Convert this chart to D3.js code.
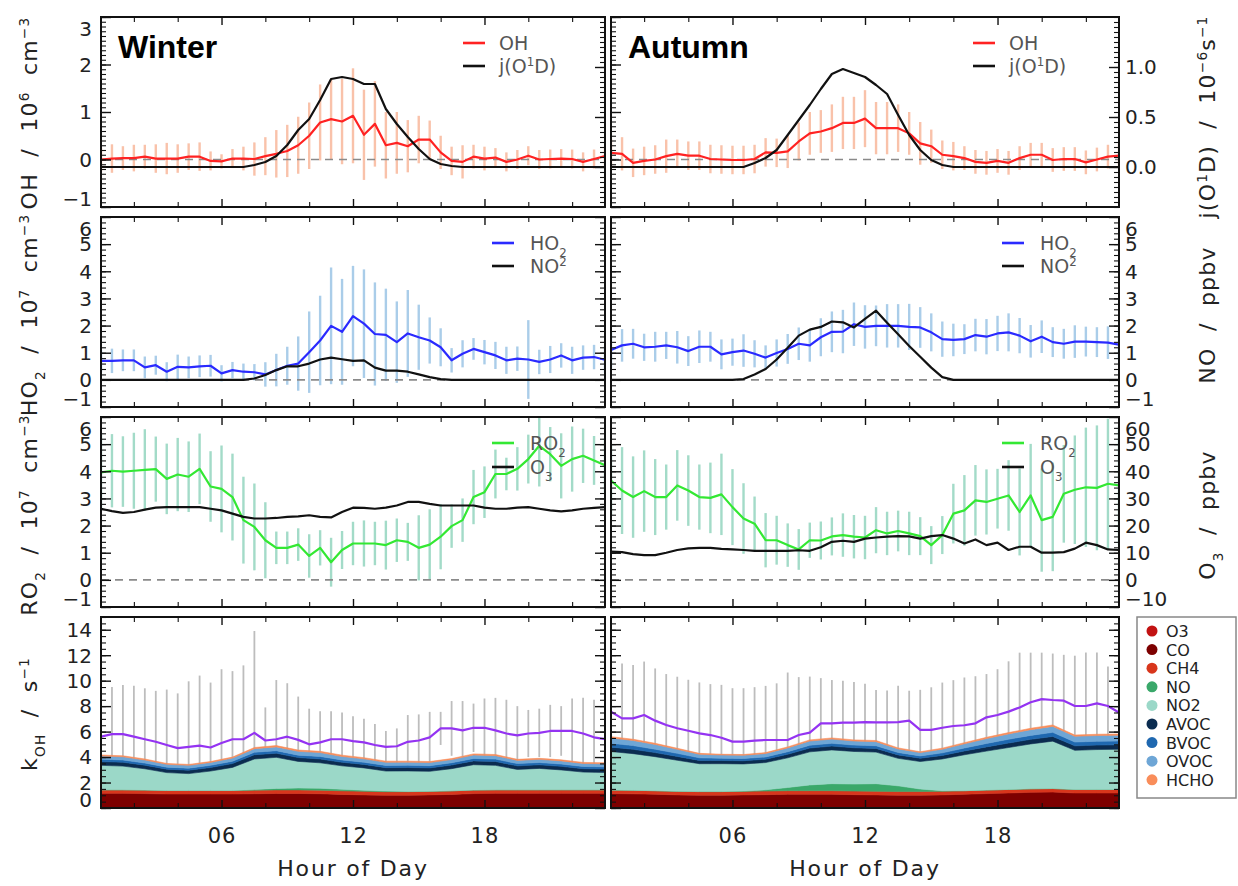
<!DOCTYPE html>
<html>
<head>
<meta charset="utf-8">
<script src="https://cdn.jsdelivr.net/npm/d3@7/dist/d3.min.js"></script>
<style>
html,body{margin:0;padding:0;background:#fff;}
svg{display:block;}
</style>
</head>
<body>
<svg id="chart" width="1238" height="886" xmlns="http://www.w3.org/2000/svg"></svg>
<script>
// ---------------- DATA ----------------
const hours = [0.5,1,1.5,2,2.5,3,3.5,4,4.5,5,5.5,6,6.5,7,7.5,8,8.5,9,9.5,10,10.5,11,11.5,12,12.5,13,13.5,14,14.5,15,15.5,16,16.5,17,17.5,18,18.5,19,19.5,20,20.5,21,21.5,22,22.5,23,23.5];
const hoursHourly = [0.5,1.5,2.5,3.5,4.5,5.5,6.5,7.5,8.5,9.5,10.5,11.5,12.5,13.5,14.5,15.5,16.5,17.5,18.5,19.5,20.5,21.5,22.5,23.5];

const xTickLabels = ["06","12","18"];
const xMajorHours = [6,12,18];
const xMinorHours = [2,4,8,10,14,16,20,22];
const yTicksOH = [-1,0,1,2,3];
const yTicksJ = [0,0.5,1.0];
const yTicksHO2 = [-1,0,1,2,3,4,5,6];
const yTicksNO = [-1,0,1,2,3,4,5,6];
const yTicksRO2 = [-1,0,1,2,3,4,5,6];
const yTicksO3 = [-10,0,10,20,30,40,50,60];
const yTicksKOH = [0,2,4,6,8,10,12,14];

// OH (1e6 cm-3) and j(O1D) (1e-6 s-1)
const ohWinter = [0.00,0.02,0.03,0.03,0.06,0.02,0.02,0.02,0.06,0.06,-0.03,-0.04,0.02,0.02,0.01,0.07,0.12,0.18,0.30,0.50,0.78,0.85,0.80,0.92,0.52,0.75,0.30,0.35,0.28,0.42,0.42,0.15,-0.03,-0.05,0.06,0.02,0.04,-0.05,0.00,0.08,0.00,0.01,0.02,0.01,-0.05,0.01,0.07];
const ohWinterErr = [0.25,0.3,0.25,0.28,0.25,0.3,0.33,0.3,0.28,0.3,0.2,0.15,0.2,0.25,0.35,0.4,0.5,0.55,0.6,0.7,0.8,0.85,0.9,1.0,0.95,0.9,0.7,0.65,0.55,0.5,0.4,0.35,0.3,0.35,0.25,0.25,0.2,0.2,0.2,0.2,0.2,0.2,0.2,0.2,0.2,0.2,0.2];
const jWinter = [0,0,0,0,0,0,0,0,0,0,0,0,0,0,0.02,0.05,0.11,0.22,0.37,0.48,0.67,0.88,0.9,0.88,0.83,0.83,0.58,0.43,0.3,0.18,0.08,0.03,0.01,0,0,0,0,0,0,0,0,0,0,0,0,0,0];
const ohAutumn = [0.14,0.12,-0.07,-0.03,0.0,0.07,0.12,0.08,0.08,0.01,0.0,-0.01,-0.01,0.01,0.15,0.14,0.17,0.38,0.55,0.59,0.66,0.77,0.77,0.86,0.66,0.66,0.66,0.55,0.34,0.28,0.1,0.07,0.03,-0.05,-0.07,-0.03,-0.07,0.03,0.1,0.1,-0.01,0.01,0.01,-0.06,0.0,0.06,0.08];
const ohAutumnErr = [0.3,0.35,0.3,0.3,0.3,0.35,0.3,0.3,0.3,0.3,0.3,0.3,0.3,0.3,0.3,0.3,0.35,0.4,0.45,0.45,0.5,0.55,0.55,0.6,0.55,0.55,0.5,0.45,0.45,0.35,0.3,0.3,0.25,0.25,0.25,0.25,0.25,0.25,0.25,0.25,0.25,0.25,0.25,0.25,0.25,0.25,0.25];
const jAutumn = [0,0,0,0,0,0,0,0,0,0,0,0,0,0.04,0.09,0.17,0.32,0.47,0.62,0.78,0.93,0.98,0.94,0.9,0.82,0.73,0.52,0.32,0.17,0.07,0.02,0,0,0,0,0,0,0,0,0,0,0,0,0,0,0,0];

// HO2 (1e7 cm-3) and NO (ppbv)
const ho2Winter = [0.7,0.7,0.72,0.72,0.46,0.54,0.3,0.48,0.46,0.5,0.52,0.24,0.36,0.3,0.28,0.2,0.36,0.52,0.6,1.02,1.45,1.99,1.77,2.35,2.07,1.69,1.66,1.39,1.71,1.57,1.45,1.2,0.72,0.96,1.14,1.02,0.9,0.72,0.78,0.75,0.66,0.75,0.9,0.72,0.82,0.84,0.74];
const ho2WinterErr = [0.4,0.45,0.4,0.4,0.4,0.35,0.35,0.45,0.4,0.4,0.4,0.3,0.3,0.3,0.3,0.45,0.6,0.7,1.0,1.5,1.65,2.15,1.95,1.85,2.0,1.9,1.7,1.5,1.6,1.2,0.85,0.7,0.45,0.5,0.4,0.45,0.5,0.5,0.45,1.45,0.45,0.5,0.45,0.5,0.45,0.45,0.5];
const noWinter = [0,0,0,0,0,0,0,0,0,0,0,0,0,0,0.05,0.18,0.36,0.5,0.5,0.6,0.75,0.82,0.76,0.7,0.72,0.45,0.34,0.34,0.3,0.2,0.1,0.03,0,0,0,0,0,0,0,0,0,0,0,0,0,0,0];
const ho2Autumn = [1.1,1.27,1.33,1.2,1.22,1.27,1.2,1.06,1.22,1.22,0.94,1.02,1.08,0.96,0.82,0.99,1.14,1.33,1.27,1.57,1.77,1.78,2.05,1.95,1.99,1.99,1.99,1.95,1.93,1.75,1.5,1.47,1.5,1.65,1.59,1.71,1.75,1.63,1.42,1.59,1.39,1.33,1.41,1.41,1.39,1.37,1.3];
const ho2AutumnErr = [0.65,0.6,0.55,0.5,0.55,0.5,0.6,0.55,0.6,0.55,0.55,0.5,0.6,0.5,0.45,0.5,0.55,0.6,0.6,0.7,0.75,0.8,0.8,0.8,0.75,0.8,0.8,0.85,0.75,0.7,0.65,0.6,0.55,0.6,0.65,0.65,0.7,0.65,0.6,0.6,0.55,0.55,0.6,0.55,0.55,0.6,0.6];
const noAutumn = [0,0,0,0,0,0,0,0,0,0,0,0,0.03,0.2,0.4,0.75,1.18,1.63,1.85,1.95,2.15,2.12,1.93,2.25,2.55,2.1,1.68,1.25,0.85,0.45,0.1,0,0,0,0,0,0,0,0,0,0,0,0,0,0,0,0];

// RO2 (1e7 cm-3) and O3 (ppbv)
const ro2Winter = [3.96,4.02,3.99,4.02,4.05,4.08,3.72,3.88,3.8,4.09,3.44,3.35,3.05,2.2,1.95,1.46,1.18,1.18,1.3,0.88,1.18,0.65,1.1,1.34,1.34,1.34,1.28,1.46,1.4,1.18,1.3,1.59,1.98,2.2,3.05,3.23,3.9,3.9,4.09,4.45,4.94,4.63,4.2,4.45,4.57,4.4,4.22];
const ro2WinterErr = [1.4,1.35,1.3,1.4,1.5,1.2,1.3,1.35,1.3,1.3,1.3,1.6,1.6,1.6,1.6,1.4,0.6,0.6,0.6,0.8,0.65,0.9,0.7,0.8,0.85,0.8,0.9,0.8,0.7,1.2,1.3,1.2,0.8,0.8,1.0,0.95,0.9,0.6,0.8,0.9,1.5,1.0,1.2,1.2,1.0,0.9,1.0];
const o3Winter = [26.2,25.3,24.7,25.0,25.9,26.6,26.8,26.8,26.8,26.8,26.2,25.6,24.4,23.2,22.6,22.6,22.8,23.2,23.4,23.8,23.2,23.0,25.0,26.6,26.5,26.2,26.6,27.4,28.7,28.7,28.0,27.4,27.4,27.4,27.4,26.6,26.2,26.2,26.6,26.8,26.2,25.6,25.2,25.6,26.2,26.5,26.8];
const ro2Autumn = [3.66,3.29,3.05,3.27,3.05,3.05,3.48,3.29,3.05,3.02,3.15,2.68,2.26,2.07,1.46,1.46,1.28,1.12,1.46,1.45,1.6,1.65,1.59,1.56,1.83,1.71,1.8,1.71,1.61,1.28,1.65,2.44,2.56,2.93,2.87,2.99,3.11,2.5,3.11,2.2,2.32,3.17,3.32,3.41,3.39,3.54,3.48];
const ro2AutumnErr = [1.3,1.6,1.5,1.5,1.4,1.2,1.3,1.3,1.2,1.3,1.5,1.4,1.3,1.0,1.0,0.9,0.8,0.75,0.65,0.7,0.7,0.8,0.8,0.8,0.85,0.8,0.75,0.8,0.7,0.7,0.7,1.1,1.3,1.3,1.2,1.1,1.3,1.6,1.9,1.9,2.0,1.8,2.0,2.2,2.3,2.4,2.2];
const o3Autumn = [10.4,10.2,9.5,9.1,9.1,10.0,11.0,11.6,11.8,11.8,11.4,11.2,11.0,10.7,10.7,10.7,10.7,10.9,10.7,12.0,14.0,14.4,14.0,15.2,15.6,15.9,16.1,16.0,15.2,16.1,16.5,15.2,13.4,14.9,12.8,13.7,11.0,12.2,12.2,10.0,10.0,10.2,11.5,13.7,12.8,11.2,11.0];

// Measured kOH (s-1)
const kohWinter = [5.6,5.8,5.8,5.6,5.4,5.2,4.95,4.7,4.8,4.9,4.75,5.1,5.4,5.4,5.9,5.3,5.4,5.6,5.35,5.0,5.15,5.4,5.4,5.25,5.15,4.95,4.8,4.85,5.2,5.3,5.55,6.25,6.25,6.1,6.3,6.3,6.1,5.85,5.7,5.85,5.9,6.05,6.05,6.05,5.85,5.55,5.4];
const kohWinterErr = [3.8,3.7,3.85,4.0,4.0,4.0,4.35,4.3,5.15,5.5,5.1,5.8,5.35,5.8,8.0,2.6,4.65,4.2,3.4,2.8,2.45,2.2,2.1,1.95,1.85,1.65,1.25,1.4,2.1,2.05,2.0,1.3,2.15,2.3,1.9,2.3,2.55,2.65,2.3,1.85,1.9,2.05,1.95,2.55,2.8,2.95,3.1];
const kohAutumn = [7.57,7.04,7.04,7.3,6.86,6.52,6.26,6.07,5.86,5.73,5.52,5.21,5.21,5.29,5.34,5.34,5.34,5.73,5.92,6.65,6.65,6.7,6.7,6.75,6.72,6.72,6.75,6.86,6.13,6.13,6.3,6.44,6.5,6.65,7.12,7.3,7.57,7.9,8.3,8.55,8.48,8.43,8.01,8.01,8.22,8.01,7.49];
const kohAutumnErr = [3.7,4.3,4.2,4.2,4.1,4.0,4.05,4.0,4.0,4.0,4.15,4.2,4.2,4.2,4.25,4.45,5.3,4.55,4.4,3.55,3.4,3.3,3.2,3.0,2.55,2.5,2.85,2.35,3.15,3.35,3.55,3.6,3.75,3.7,3.4,3.6,3.95,4.3,3.9,3.65,3.65,3.6,3.95,4.2,4.0,3.1,3.0];

// Modelled kOH contributions (s-1), hourly
const kW_O3   = [0.05,0.05,0.05,0.05,0.05,0.05,0.05,0.04,0.04,0.04,0.04,0.05,0.05,0.05,0.05,0.05,0.05,0.05,0.05,0.05,0.05,0.05,0.05,0.05];
const kW_CO   = [1.10,1.10,1.08,1.05,1.05,1.05,1.05,1.08,1.10,1.10,1.08,1.02,0.98,0.95,0.95,0.98,1.02,1.08,1.10,1.10,1.10,1.10,1.10,1.10];
const kW_CH4  = [0.28,0.28,0.28,0.28,0.28,0.28,0.28,0.28,0.28,0.28,0.28,0.28,0.28,0.28,0.28,0.28,0.28,0.28,0.28,0.28,0.28,0.28,0.28,0.28];
const kW_NO   = [0,0,0,0,0,0,0,0.05,0.12,0.15,0.15,0.12,0.08,0.05,0.02,0,0,0,0,0,0,0,0,0];
const kW_NO2  = [1.92,1.86,1.67,1.40,1.32,1.52,1.81,2.40,2.44,2.09,2.00,1.84,1.76,1.57,1.61,1.57,1.74,1.99,1.92,1.60,1.68,1.56,1.39,1.36];
const kW_AVOC = [0.30,0.30,0.28,0.27,0.27,0.28,0.30,0.33,0.32,0.30,0.30,0.28,0.27,0.27,0.27,0.27,0.28,0.30,0.30,0.28,0.28,0.28,0.27,0.27];
const kW_BVOC = [0.18,0.18,0.17,0.16,0.16,0.17,0.18,0.20,0.20,0.19,0.20,0.18,0.17,0.17,0.17,0.17,0.18,0.19,0.19,0.18,0.18,0.18,0.17,0.17];
const kW_OVOC = [0.25,0.25,0.24,0.22,0.22,0.23,0.25,0.28,0.30,0.30,0.30,0.28,0.27,0.25,0.25,0.25,0.25,0.27,0.27,0.25,0.25,0.25,0.24,0.24];
const kW_HCHO = [0.08,0.08,0.08,0.07,0.07,0.07,0.08,0.09,0.10,0.10,0.10,0.10,0.09,0.09,0.08,0.08,0.08,0.09,0.09,0.08,0.08,0.08,0.08,0.08];

const kA_O3   = [0.03,0.03,0.03,0.03,0.03,0.03,0.03,0.03,0.03,0.03,0.03,0.03,0.03,0.03,0.03,0.03,0.03,0.03,0.03,0.03,0.03,0.03,0.03,0.03];
const kA_CO   = [1.10,1.08,1.05,1.00,0.98,0.98,1.00,1.02,1.05,1.05,1.05,1.02,1.00,0.98,0.98,1.00,1.05,1.10,1.15,1.20,1.22,1.15,1.15,1.15];
const kA_CH4  = [0.28,0.28,0.28,0.28,0.28,0.28,0.28,0.28,0.28,0.28,0.28,0.28,0.28,0.28,0.28,0.28,0.28,0.28,0.28,0.28,0.28,0.28,0.28,0.28];
const kA_NO   = [0,0,0,0,0,0,0.02,0.10,0.25,0.45,0.55,0.55,0.60,0.45,0.20,0.05,0,0,0,0,0,0,0,0];
const kA_NO2  = [3.02,2.88,2.67,2.44,2.19,2.19,2.13,2.14,2.33,2.60,2.65,2.56,2.48,2.16,2.16,2.49,2.82,3.06,3.29,3.52,3.72,3.07,3.13,3.15];
const kA_AVOC = [0.35,0.34,0.32,0.30,0.26,0.25,0.25,0.26,0.28,0.30,0.30,0.29,0.29,0.27,0.26,0.28,0.30,0.33,0.35,0.36,0.37,0.35,0.35,0.35];
const kA_BVOC = [0.30,0.29,0.27,0.24,0.20,0.18,0.18,0.18,0.20,0.22,0.22,0.21,0.21,0.19,0.18,0.20,0.23,0.27,0.30,0.31,0.32,0.30,0.30,0.30];
const kA_OVOC = [0.42,0.40,0.37,0.32,0.28,0.25,0.25,0.27,0.30,0.33,0.33,0.32,0.32,0.28,0.26,0.29,0.33,0.38,0.42,0.45,0.47,0.45,0.45,0.45];
const kA_HCHO = [0.10,0.10,0.09,0.08,0.07,0.06,0.06,0.07,0.08,0.09,0.09,0.09,0.09,0.08,0.07,0.08,0.09,0.10,0.10,0.11,0.11,0.10,0.10,0.10];

const stackKeys = ["O3","CO","CH4","NO","NO2","AVOC","BVOC","OVOC","HCHO"];
const stackColors = ["#c21212","#7d0000","#d8361c","#3aa86a","#9bd8c8","#0b2c50","#1f68b0","#6ea6d6","#f98d5a"];
const seasonNames = ["Winter","Autumn"];

// ---------------- LAYOUT ----------------
const FONT = '"DejaVu Sans", "Liberation Sans", sans-serif';
const svg = d3.select("#chart");
const cols = [{x0:101,x1:605},{x0:611,x1:1119}];
const rows = [{y0:17,y1:207},{y0:217,y1:407},{y0:417,y1:607},{y0:617,y1:808}];
const xs = cols.map(c => d3.scaleLinear().domain([0.5,23.5]).range([c.x0,c.x1]));

const rowCfg = [
  {lDom:[-1,3],  lMaj:yTicksOH,  lMin:0.1, lFmt:d3.format("d"), rDom:[-0.4,1.5], rMaj:yTicksJ,  rMin:0.05, rFmt:d3.format(".1f")},
  {lDom:[-1,6],  lMaj:yTicksHO2, lMin:0.2, lFmt:d3.format("d"), rDom:[-1,6],     rMaj:yTicksNO, rMin:0.2,  rFmt:d3.format("d")},
  {lDom:[-1,6],  lMaj:yTicksRO2, lMin:0.2, lFmt:d3.format("d"), rDom:[-10,60],   rMaj:yTicksO3, rMin:2,    rFmt:d3.format("d")},
  {lDom:[0,15],  lMaj:yTicksKOH, lMin:0.5, lFmt:d3.format("d"), rDom:[0,15],     rMaj:yTicksKOH,rMin:0.5,  rFmt:null}
];
const yL = rows.map((r,i) => d3.scaleLinear().domain(rowCfg[i].lDom).range([r.y1,r.y0]));
const yR = rows.map((r,i) => d3.scaleLinear().domain(rowCfg[i].rDom).range([r.y1,r.y0]));

const defs = svg.append("defs");
rows.forEach((r,ri)=>cols.forEach((c,ci)=>{
  defs.append("clipPath").attr("id",`clip${ri}${ci}`).append("rect")
    .attr("x",c.x0).attr("y",r.y0).attr("width",c.x1-c.x0).attr("height",r.y1-r.y0);
}));

function rich(sel, parts, size){
  parts.forEach(p=>{
    const t = sel.append("tspan").text(p.t);
    if(p.s==="sup") t.attr("baseline-shift","super").attr("font-size",size*0.62);
    if(p.s==="sub") t.attr("baseline-shift","sub").attr("font-size",size*0.62);
  });
}

// ---------------- RADICAL PANELS ----------------
const radRows = [
  {vals:[ohWinter,ohAutumn], errs:[ohWinterErr,ohAutumnErr], blk:[jWinter,jAutumn], color:"#ff2222", errColor:"#f9c2aa",
   leg:[[{t:"OH"}],[{t:"j(O"},{t:"1",s:"sup"},{t:"D)"}]], legX:[362,384,398], legY:[26,49]},
  {vals:[ho2Winter,ho2Autumn], errs:[ho2WinterErr,ho2AutumnErr], blk:[noWinter,noAutumn], color:"#2a2aff", errColor:"#aacde9",
   leg:[[{t:"HO"},{t:"2",s:"sub"}],[{t:"NO"},{t:"2",s:"sup"}]], legX:[391,413,429], legY:[26,49]},
  {vals:[ro2Winter,ro2Autumn], errs:[ro2WinterErr,ro2AutumnErr], blk:[o3Winter,o3Autumn], color:"#33e833", errColor:"#a3dbc8",
   leg:[[{t:"RO"},{t:"2",s:"sub"}],[{t:"O"},{t:"3",s:"sub"}]], legX:[391,413,429], legY:[26,50]}
];

radRows.forEach((cfg,ri)=>{
  cols.forEach((c,ci)=>{
    const x = xs[ci], yl = yL[ri], yr = yR[ri], r = rows[ri];
    const vals = cfg.vals[ci], errs = cfg.errs[ci], blk = cfg.blk[ci];
    const g = svg.append("g").attr("clip-path",`url(#clip${ri}${ci})`);
    g.append("g").selectAll("line").data(hours).join("line")
      .attr("x1",h=>x(h)).attr("x2",h=>x(h))
      .attr("y1",(h,i)=>yl(vals[i]-errs[i])).attr("y2",(h,i)=>yl(vals[i]+errs[i]))
      .attr("stroke",cfg.errColor).attr("stroke-width",2.4);
    g.append("line").attr("x1",c.x0).attr("x2",c.x1).attr("y1",yl(0)).attr("y2",yl(0))
      .attr("stroke","#8a8a8a").attr("stroke-width",1.6).attr("stroke-dasharray","8,6");
    // legend
    const lg = svg.append("g");
    [cfg.color,"#111"].forEach((col,k)=>{
      const yy = r.y0 + cfg.legY[k];
      lg.append("line").attr("x1",c.x0+cfg.legX[0]).attr("x2",c.x0+cfg.legX[1]).attr("y1",yy).attr("y2",yy)
        .attr("stroke",col).attr("stroke-width",2.6);
      const t = lg.append("text").attr("x",c.x0+cfg.legX[2]).attr("y",yy+7)
        .attr("font-family",FONT).attr("font-size",19).attr("fill","#555");
      rich(t, cfg.leg[k], 19);
    });
    const lineL = d3.line().x((d,i)=>x(hours[i])).y(d=>yl(d));
    const lineR = d3.line().x((d,i)=>x(hours[i])).y(d=>yr(d));
    g.append("path").datum(vals).attr("d",lineL).attr("fill","none").attr("stroke",cfg.color).attr("stroke-width",2.2).attr("stroke-linejoin","round");
    g.append("path").datum(blk).attr("d",lineR).attr("fill","none").attr("stroke","#111").attr("stroke-width",2.2).attr("stroke-linejoin","round");
  });
});

// ---------------- kOH PANELS ----------------
const stackSeries = [
  [kW_O3,kW_CO,kW_CH4,kW_NO,kW_NO2,kW_AVOC,kW_BVOC,kW_OVOC,kW_HCHO],
  [kA_O3,kA_CO,kA_CH4,kA_NO,kA_NO2,kA_AVOC,kA_BVOC,kA_OVOC,kA_HCHO]
];
const kohVals = [kohWinter,kohAutumn];
const kohErrs = [kohWinterErr,kohAutumnErr];

cols.forEach((c,ci)=>{
  const x = xs[ci], y = yL[3];
  const g = svg.append("g").attr("clip-path",`url(#clip3${ci})`);
  const vals = kohVals[ci], errs = kohErrs[ci];
  g.append("g").selectAll("line").data(hours).join("line")
    .attr("x1",h=>x(h)).attr("x2",h=>x(h))
    .attr("y1",(h,i)=>y(vals[i]-errs[i])).attr("y2",(h,i)=>y(vals[i]+errs[i]))
    .attr("stroke","#bdbdbd").attr("stroke-width",1.8);
  const table = hoursHourly.map((h,j)=>{
    const o = {h};
    stackKeys.forEach((k,ki)=>{ o[k] = stackSeries[ci][ki][j]; });
    return o;
  });
  const layers = d3.stack().keys(stackKeys)(table);
  const area = d3.area().x(d=>x(d.data.h)).y0(d=>y(d[0])).y1(d=>y(d[1]));
  g.append("g").selectAll("path").data(layers).join("path")
    .attr("d",area).attr("fill",(d,i)=>stackColors[i]).attr("stroke",(d,i)=>stackColors[i]).attr("stroke-width",0.6);
  g.append("path").datum(vals)
    .attr("d",d3.line().x((d,i)=>x(hours[i])).y(d=>y(d)))
    .attr("fill","none").attr("stroke","#9433f2").attr("stroke-width",2.2).attr("stroke-linejoin","round");
});

// ---------------- FRAMES & AXES ----------------
function drawYAxis(xPos, scale, side, major, minorStep, fmt, labels){
  const dom = scale.domain();
  const lo = Math.round(dom[0]/minorStep), hi = Math.round(dom[1]/minorStep);
  const minor = d3.range(lo,hi+1).map(k=>+(k*minorStep).toFixed(4));
  const mk = side==="left" ? d3.axisLeft : d3.axisRight;
  const g1 = svg.append("g").attr("transform",`translate(${xPos},0)`)
    .call(mk(scale).tickValues(minor).tickSize(-5).tickFormat(""));
  g1.attr("color","#111"); g1.select(".domain").remove();
  g1.selectAll("line").attr("stroke-width",1.1);
  const ax = mk(scale).tickValues(major).tickSize(-10).tickPadding(side==="left"?9:6)
    .tickFormat(labels ? fmt : ()=>"");
  const g2 = svg.append("g").attr("transform",`translate(${xPos},0)`).call(ax);
  g2.attr("color","#111").attr("font-family",FONT).attr("font-size",20);
  g2.select(".domain").remove();
  g2.selectAll("line").attr("stroke-width",1.4);
  g2.selectAll("text").attr("fill","#222")
    .attr("dy",d=> Math.abs(d-dom[1])<1e-9 ? "0.9em" : (Math.abs(d-dom[0])<1e-9 ? "-0.08em" : "0.34em"));
}
function drawXAxis(ci, ri){
  const x = xs[ci], r = rows[ri];
  [[r.y0,d3.axisTop,false],[r.y1,d3.axisBottom,ri===3]].forEach(([yy,mk,lab])=>{
    const g1 = svg.append("g").attr("transform",`translate(0,${yy})`)
      .call(mk(x).tickValues(xMinorHours).tickSize(-5).tickFormat(""));
    g1.attr("color","#111"); g1.select(".domain").remove();
    g1.selectAll("line").attr("stroke-width",1.1);
    const g2 = svg.append("g").attr("transform",`translate(0,${yy})`)
      .call(mk(x).tickValues(xMajorHours).tickSize(-8).tickPadding(20).tickFormat((d,i)=> lab ? xTickLabels[i] : ""));
    g2.attr("color","#111").attr("font-family",FONT).attr("font-size",21);
    g2.select(".domain").remove();
    g2.selectAll("line").attr("stroke-width",1.4);
    g2.selectAll("text").attr("fill","#222").attr("letter-spacing",1);
  });
}

rows.forEach((r,ri)=>{
  cols.forEach((c,ci)=>{
    const cfg = rowCfg[ri];
    drawYAxis(c.x0, yL[ri], "left", cfg.lMaj, cfg.lMin, cfg.lFmt, ci===0);
    drawYAxis(c.x1, yR[ri], "right", cfg.rMaj, cfg.rMin, cfg.rFmt, ci===1 && cfg.rFmt!==null);
    drawXAxis(ci, ri);
    svg.append("rect").attr("x",c.x0).attr("y",r.y0).attr("width",c.x1-c.x0).attr("height",r.y1-r.y0)
      .attr("fill","none").attr("stroke","#111").attr("stroke-width",2);
  });
});

// ---------------- TEXT ----------------
seasonNames.forEach((s,ci)=>{
  svg.append("text").attr("x",cols[ci].x0+17).attr("y",58).text(s)
    .attr("font-family",'"Liberation Sans", Arial, sans-serif').attr("font-weight","bold").attr("font-size",32).attr("fill","#000");
});

cols.forEach((c,ci)=>{
  svg.append("text").attr("x",xs[ci](12)).attr("y",876).attr("text-anchor","middle")
    .attr("font-family",FONT).attr("font-size",22).attr("letter-spacing",1.8).attr("fill","#222").text("Hour of Day");
});

const leftTitles = [
  [{t:"OH  /  10"},{t:"6",s:"sup"},{t:"  cm"},{t:"−3",s:"sup"}],
  [{t:"HO"},{t:"2",s:"sub"},{t:"  /  10"},{t:"7",s:"sup"},{t:"  cm"},{t:"−3",s:"sup"}],
  [{t:"RO"},{t:"2",s:"sub"},{t:"  /  10"},{t:"7",s:"sup"},{t:"  cm"},{t:"−3",s:"sup"}],
  [{t:"k"},{t:"OH",s:"sub"},{t:"  /  s"},{t:"−1",s:"sup"}]
];
const rightTitles = [
  [{t:"j(O"},{t:"1",s:"sup"},{t:"D)  /  10"},{t:"−6",s:"sup"},{t:"s"},{t:"−1",s:"sup"}],
  [{t:"NO  /  ppbv"}],
  [{t:"O"},{t:"3",s:"sub"},{t:"  /  ppbv"}]
];
const leftTitleCY = [113,315,515,714];
const rightTitleCY = [117,315,515];
leftTitles.forEach((parts,ri)=>{
  const t = svg.append("text").attr("transform",`translate(37,${leftTitleCY[ri]}) rotate(-90)`)
    .attr("text-anchor","middle").attr("font-family",FONT).attr("font-size",22).attr("letter-spacing",1.2)
    .attr("fill","#222").style("white-space","pre");
  rich(t, parts, 22);
});
rightTitles.forEach((parts,ri)=>{
  const t = svg.append("text").attr("transform",`translate(1215,${rightTitleCY[ri]}) rotate(-90)`)
    .attr("text-anchor","middle").attr("font-family",FONT).attr("font-size",22).attr("letter-spacing",1.2)
    .attr("fill","#222").style("white-space","pre");
  rich(t, parts, 22);
});

// ---------------- STACK LEGEND ----------------
const lgB = svg.append("g");
lgB.append("rect").attr("x",1137).attr("y",617).attr("width",99).attr("height",181)
  .attr("fill","#fff").attr("stroke","#888").attr("stroke-width",1.5);
stackKeys.forEach((k,i)=>{
  const yy = 631 + i*18.6;
  lgB.append("circle").attr("cx",1152).attr("cy",yy).attr("r",5.5).attr("fill",stackColors[i]);
  lgB.append("text").attr("x",1166).attr("y",yy+6).attr("font-family",FONT).attr("font-size",16)
    .attr("fill","#222").text(k);
});
</script>
</body>
</html>
